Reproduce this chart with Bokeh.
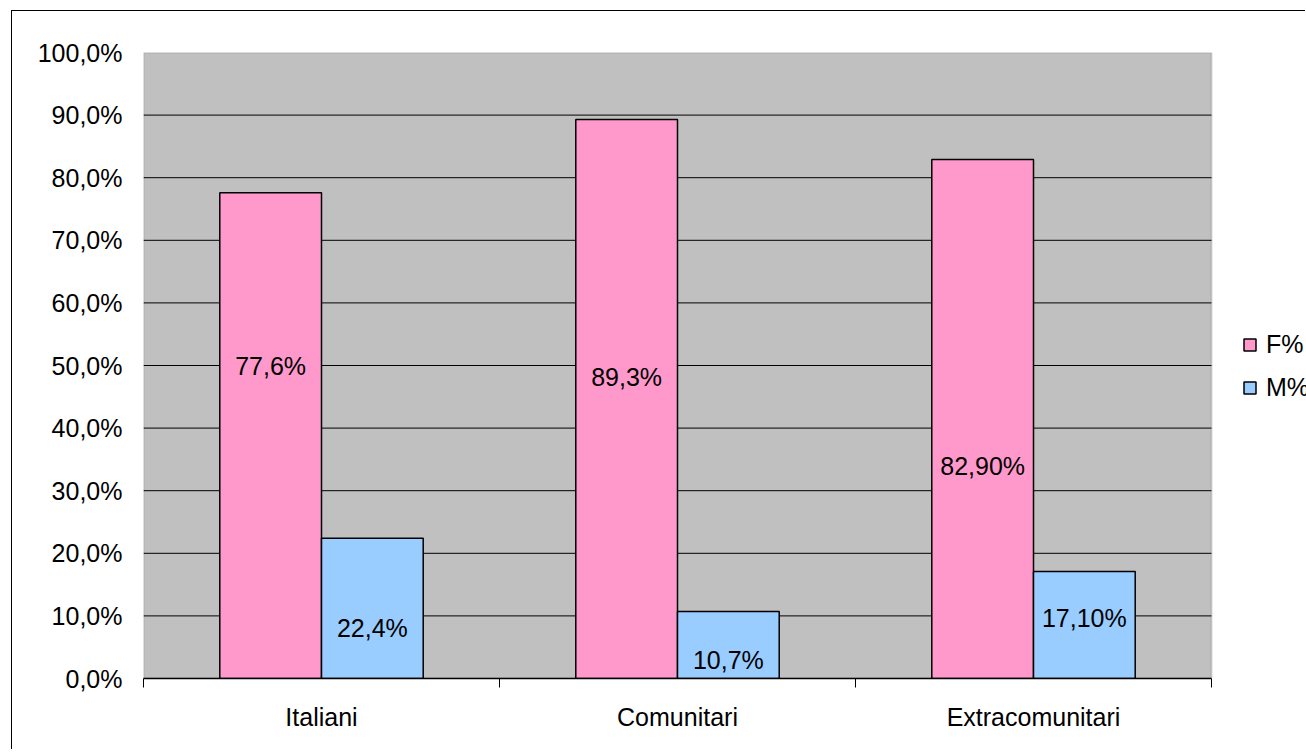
from bokeh.plotting import figure
from bokeh.models import (FixedTicker, Range1d, Legend, LegendItem,
                          ColumnDataSource, BoxAnnotation)
from bokeh.core.properties import value
from bokeh.embed import file_html
from bokeh.resources import INLINE

categories = ["Italiani", "Comunitari", "Extracomunitari"]
f_values = [77.6, 89.3, 82.9]
m_values = [22.4, 10.7, 17.1]
f_labels = ["77,6%", "89,3%", "82,90%"]
m_labels = ["22,4%", "10,7%", "17,10%"]
f_label_y = [50.0, 48.2, 33.9]
m_label_y = [8.0, 2.9, 9.6]
y_ticks = [0, 10, 20, 30, 40, 50, 60, 70, 80, 90, 100]
y_tick_labels = ["0,0%", "10,0%", "20,0%", "30,0%", "40,0%", "50,0%",
                 "60,0%", "70,0%", "80,0%", "90,0%", "100,0%"]

FONT = "Liberation Sans"
FS = "25px"
BAR_W = 2 / 7
N = len(categories)

# pixel layout (canvas coordinates)
W, H = 1294, 739
LEFT, TOP, BOTTOM = 131, 41, 72
PLOT_PX = 1068                      # width of the grey plot area
FRAME_PX = W - LEFT                 # frame extends to the canvas edge (legend room)
x_end = N * FRAME_PX / PLOT_PX

centers = [i + 0.5 for i in range(N)]
f_x = [c - BAR_W / 2 for c in centers]
m_x = [c + BAR_W / 2 for c in centers]

src_f = ColumnDataSource(dict(x=f_x, top=f_values, ly=f_label_y, lab=f_labels))
src_m = ColumnDataSource(dict(x=m_x, top=m_values, ly=m_label_y, lab=m_labels))

p = figure(width=W, height=H, output_backend="svg", toolbar_location=None,
           x_range=Range1d(0, x_end), y_range=Range1d(0, 100),
           min_border_left=LEFT, min_border_top=TOP,
           min_border_right=0, min_border_bottom=BOTTOM)
p.styles = {"margin-left": "11px", "margin-top": "10px",
            "border-left": "1px solid black", "border-top": "1px solid black"}

p.background_fill_color = "white"
p.border_fill_color = "white"
p.outline_line_color = None

# grey plot area
p.add_layout(BoxAnnotation(left=0, right=N, bottom=0, top=100,
                           fill_color="#C0C0C0", fill_alpha=1,
                           line_color="#808080", line_width=2,
                           level="underlay"))

# horizontal gridlines across the plot area only
grid_y = y_ticks[1:-1]
p.segment(x0=[0] * len(grid_y), x1=[N] * len(grid_y), y0=grid_y, y1=grid_y,
          line_color="black", line_width=1)

rf = p.vbar(x="x", top="top", width=BAR_W, bottom=0, source=src_f,
            fill_color="#FF99CC", line_color="black", line_width=1.5)
rm = p.vbar(x="x", top="top", width=BAR_W, bottom=0, source=src_m,
            fill_color="#99CCFF", line_color="black", line_width=1.5)

for s in (src_f, src_m):
    p.text(x="x", y="ly", text="lab", source=s, text_align="center",
           text_baseline="middle", text_font=value(FONT),
           text_font_size=FS, text_color="black")

p.xgrid.grid_line_color = None
p.ygrid.grid_line_color = None

# y axis
p.yaxis.ticker = FixedTicker(ticks=y_ticks)
p.yaxis.major_label_overrides = {t: l for t, l in zip(y_ticks, y_tick_labels)}
p.yaxis.axis_line_color = None
p.yaxis.major_tick_line_color = None
p.yaxis.major_tick_out = 0
p.yaxis.major_tick_in = 0
p.yaxis.minor_tick_line_color = None
p.yaxis.major_label_standoff = 21
p.yaxis.major_label_text_font = FONT
p.yaxis.major_label_text_font_size = FS
p.yaxis.major_label_text_color = "black"

# x axis
p.xaxis.bounds = (0, N)
p.xaxis.ticker = FixedTicker(ticks=centers, minor_ticks=list(range(N + 1)))
p.xaxis.major_label_overrides = {c: n for c, n in zip(centers, categories)}
p.xaxis.axis_line_color = "black"
p.xaxis.axis_line_width = 1.5
p.xaxis.major_tick_line_color = None
p.xaxis.major_tick_out = 0
p.xaxis.major_tick_in = 0
p.xaxis.minor_tick_line_color = "black"
p.xaxis.minor_tick_out = 9
p.xaxis.minor_tick_in = 0
p.xaxis.major_label_standoff = 15
p.xaxis.major_label_text_font = FONT
p.xaxis.major_label_text_font_size = FS
p.xaxis.major_label_text_color = "black"

legend = Legend(items=[LegendItem(label="F%", renderers=[rf]),
                       LegendItem(label="M%", renderers=[rm])],
                location=(PLOT_PX + 31, 276), padding=0, margin=0,
                border_line_color=None, background_fill_alpha=0,
                glyph_width=15, glyph_height=15, label_standoff=9,
                spacing=14, label_text_font=FONT,
                label_text_font_size=FS, label_text_color="black")
p.add_layout(legend, "center")

open("out.html", "w").write(file_html(p, INLINE))
